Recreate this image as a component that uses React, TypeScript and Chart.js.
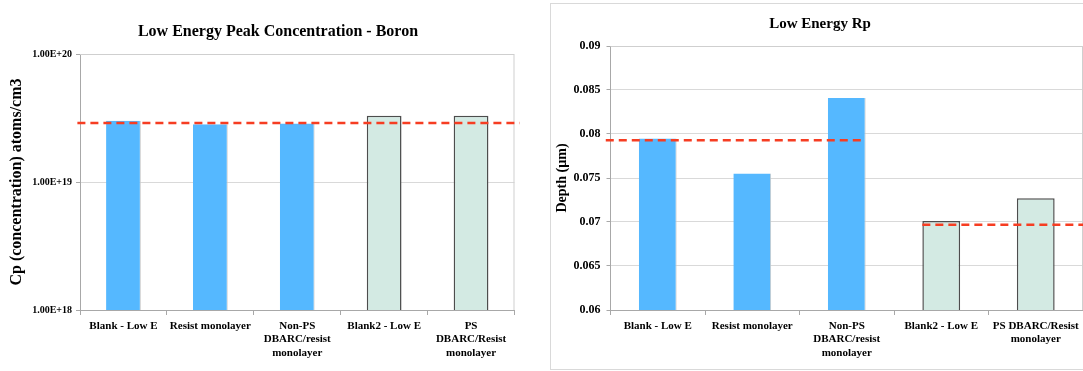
import React, { useEffect, useRef } from "react";
import { Chart, registerables } from "chart.js";

Chart.register(...registerables);

// ---- Data -------------------------------------------------------------

// Implant split: 1 = first low-energy batch, 2 = second batch
const implantBatch = [1, 1, 1, 2, 2];

const peakCategories = [
  ["Blank - Low E"],
  ["Resist monolayer"],
  ["Non-PS", "DBARC/resist", "monolayer"],
  ["Blank2 - Low E"],
  ["PS", "DBARC/Resist", "monolayer"],
];
// Peak boron concentration, atoms/cm3
const peakConcentration = [3.01e19, 2.82e19, 2.87e19, 3.3e19, 3.29e19];
const peakReference = [2.89e19];
const peakTicks = [1e18, 1e19, 1e20];

const rpCategories = [
  ["Blank - Low E"],
  ["Resist monolayer"],
  ["Non-PS", "DBARC/resist", "monolayer"],
  ["Blank2 - Low E"],
  ["PS DBARC/Resist", "monolayer"],
];
// Projected range Rp, µm
const rpDepth = [0.0795, 0.0755, 0.0841, 0.0701, 0.0727];
const rpReference = [0.0793, 0.0697];
const rpMin = 0.06;
const rpMax = 0.09;
const rpStep = 0.005;

// ---- Styling ----------------------------------------------------------

const FONT = "'Liberation Serif', 'Times New Roman', serif";
const BLUE = "#55b8ff";
const BLUE_EDGE = "#c9c9c9";
const GREEN = "#d3eae3";
const GREEN_EDGE = "#4d4d4d";
const REF_RED = "#f63d22";
const GRID = "#d9d9d9";
const AXIS = "#a8a8a8";

Chart.defaults.font.family = FONT;
Chart.defaults.color = "#000";

// Dashed reference lines; span is given in category units along x
const refLinesPlugin = {
  id: "refLines",
  afterDatasetsDraw(chart: any, _args: any, opts: any) {
    const { ctx } = chart;
    const x = chart.scales.x;
    const y = chart.scales.y;
    ctx.save();
    ctx.strokeStyle = opts.color;
    ctx.lineWidth = opts.width;
    ctx.setLineDash(opts.dash);
    for (const line of opts.lines || []) {
      const py = y.getPixelForValue(line.value);
      ctx.beginPath();
      ctx.moveTo(x.getPixelForValue(line.from), py);
      ctx.lineTo(x.getPixelForValue(line.to), py);
      ctx.stroke();
    }
    ctx.restore();
  },
};

// Top and right edges of the plot area
const plotFramePlugin = {
  id: "plotFrame",
  beforeDatasetsDraw(chart: any) {
    const { ctx, chartArea: a } = chart;
    ctx.save();
    ctx.strokeStyle = "#cfcfcf";
    ctx.lineWidth = 1;
    ctx.beginPath();
    ctx.moveTo(a.left, a.top + 0.5);
    ctx.lineTo(a.right - 0.5, a.top + 0.5);
    ctx.lineTo(a.right - 0.5, a.bottom);
    ctx.stroke();
    ctx.restore();
  },
};

// Centres the chart title on a chosen x position of the canvas
const titleCenterPlugin = {
  id: "titleCenter",
  afterLayout(chart: any, _args: any, opts: any) {
    const t = chart.titleBlock;
    if (!t || opts.x == null) return;
    const half = chart.width / 2;
    t.left = opts.x - half;
    t.right = opts.x + half;
  },
};

function barStyle(values: number[]) {
  return {
    data: values,
    backgroundColor: implantBatch.map((b) => (b === 1 ? BLUE : GREEN)),
    borderColor: implantBatch.map((b) => (b === 1 ? BLUE_EDGE : GREEN_EDGE)),
    borderWidth: (c: any) =>
      implantBatch[c.dataIndex] === 1
        ? { top: 0, right: 1, bottom: 0, left: 0 }
        : 1.5,
    borderSkipped: "start",
    barPercentage: 0.4,
    categoryPercentage: 1,
  };
}

function xAxis(height: number) {
  return {
    type: "category",
    offset: true,
    grid: {
      offset: true,
      drawOnChartArea: false,
      drawTicks: true,
      tickLength: 5,
      color: AXIS,
    },
    border: { display: true, color: AXIS, width: 1 },
    ticks: {
      autoSkip: false,
      maxRotation: 0,
      minRotation: 0,
      padding: 4,
      color: "#000",
      font: { family: FONT, size: 11, weight: "bold", lineHeight: 1.25 },
    },
    afterFit: (s: any) => {
      s.height = height;
    },
  };
}

function peakConfig(): any {
  return {
    type: "bar",
    data: { labels: peakCategories, datasets: [barStyle(peakConcentration)] },
    plugins: [refLinesPlugin, plotFramePlugin, titleCenterPlugin],
    options: {
      animation: false,
      responsive: false,
      events: [],
      layout: { padding: { left: 0, right: 30.5, top: 0, bottom: 0 } },
      plugins: {
        legend: { display: false },
        tooltip: { enabled: false },
        title: {
          display: true,
          text: "Low Energy Peak Concentration - Boron",
          color: "#000",
          font: { family: FONT, size: 16, weight: "bold", lineHeight: 1.2 },
          padding: { top: 22, bottom: 12.8 },
        },
        titleCenter: { x: 278 },
        refLines: {
          color: REF_RED,
          width: 2.5,
          dash: [8, 5],
          lines: [{ value: peakReference[0], from: -0.53, to: 4.56 }],
        },
      },
      scales: {
        x: xAxis(61),
        y: {
          type: "logarithmic",
          min: peakTicks[0],
          max: peakTicks[peakTicks.length - 1],
          afterBuildTicks: (s: any) => {
            s.ticks = peakTicks.map((v) => ({ value: v }));
          },
          afterFit: (s: any) => {
            s.width = 80;
          },
          grid: { color: GRID, tickColor: AXIS, drawTicks: true, tickLength: 4 },
          border: { display: true, color: AXIS, width: 1 },
          ticks: {
            padding: 4,
            color: "#000",
            font: { family: FONT, size: 10, weight: "bold" },
            callback: (v: any) => Number(v).toExponential(2).toUpperCase(),
          },
          title: {
            display: true,
            text: "Cp (concentration) atoms/cm3",
            color: "#000",
            font: { family: FONT, size: 16, weight: "bold", lineHeight: 1.2 },
            padding: { top: 6.9, bottom: 0 },
          },
        },
      },
    },
  };
}

function rpConfig(): any {
  return {
    type: "bar",
    data: { labels: rpCategories, datasets: [barStyle(rpDepth)] },
    plugins: [refLinesPlugin, plotFramePlugin, titleCenterPlugin],
    options: {
      animation: false,
      responsive: false,
      events: [],
      layout: { padding: { left: 0, right: 0, top: 0, bottom: 0 } },
      plugins: {
        legend: { display: false },
        tooltip: { enabled: false },
        title: {
          display: true,
          text: "Low Energy Rp",
          color: "#000",
          font: { family: FONT, size: 15, weight: "bold", lineHeight: 1.2 },
          padding: { top: 11.3, bottom: 12.7 },
        },
        titleCenter: { x: 269 },
        refLines: {
          color: REF_RED,
          width: 2.5,
          dash: [8, 5],
          lines: [
            { value: rpReference[0], from: -0.55, to: 2.2 },
            { value: rpReference[1], from: 2.8, to: 4.5 },
          ],
        },
      },
      scales: {
        x: xAxis(58),
        y: {
          type: "linear",
          min: rpMin,
          max: rpMax,
          afterFit: (s: any) => {
            s.width = 59.5;
          },
          grid: { color: GRID, tickColor: AXIS, drawTicks: true, tickLength: 4 },
          border: { display: true, color: AXIS, width: 1 },
          ticks: {
            stepSize: rpStep,
            padding: 6,
            color: "#000",
            font: { family: FONT, size: 12, weight: "bold" },
            callback: (v: any) => String(parseFloat(Number(v).toFixed(3))),
          },
          title: {
            display: true,
            text: "Depth (µm)",
            color: "#000",
            font: { family: FONT, size: 14, weight: "bold", lineHeight: 1.2 },
            padding: { top: 2.6, bottom: 0 },
          },
        },
      },
    },
  };
}

function ChartCanvas({ width, height, make }: { width: number; height: number; make: () => any }) {
  const ref = useRef<HTMLCanvasElement | null>(null);
  useEffect(() => {
    if (!ref.current) return;
    const chart = new Chart(ref.current, make());
    return () => chart.destroy();
  }, [make]);
  return (
    <canvas
      ref={ref}
      width={width}
      height={height}
      style={{ display: "block", width, height }}
    />
  );
}

export default function App() {
  return (
    <div
      style={{
        position: "fixed",
        left: 0,
        top: 0,
        width: 1083,
        height: 371,
        overflow: "hidden",
        background: "#fff",
      }}
    >
      <div style={{ position: "absolute", left: 0, top: 0 }}>
        <ChartCanvas width={545} height={371} make={peakConfig} />
      </div>
      <div
        style={{
          position: "absolute",
          left: 550,
          top: 3,
          width: 560,
          height: 367,
          border: "1px solid #d9d9d9",
          boxSizing: "border-box",
        }}
      >
        <div style={{ position: "absolute", left: 0, top: 0 }}>
          <ChartCanvas width={532} height={364} make={rpConfig} />
        </div>
      </div>
    </div>
  );
}
